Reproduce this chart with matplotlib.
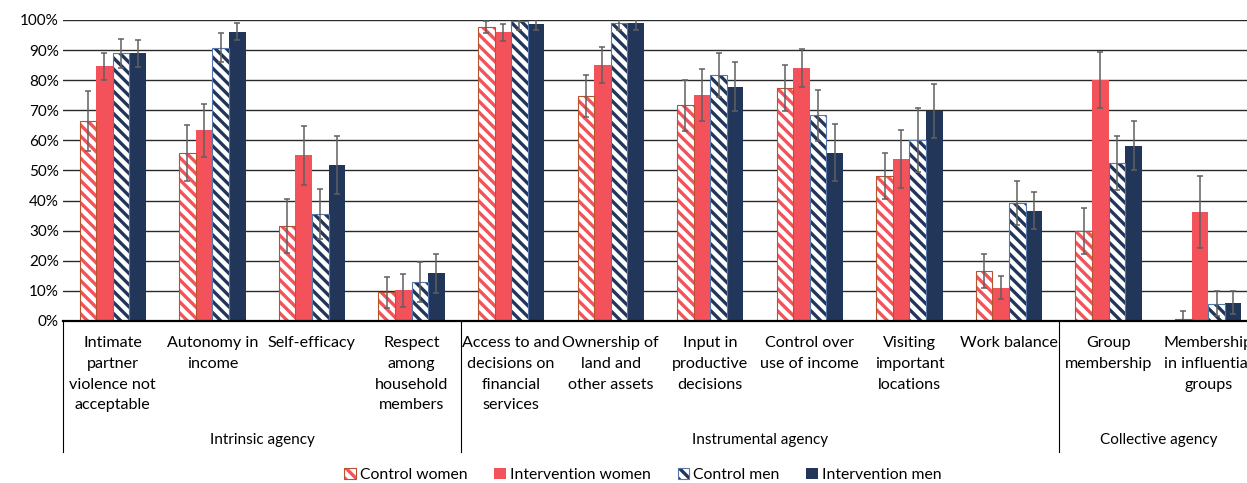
import numpy as np
import matplotlib
matplotlib.use("Agg")
import matplotlib.pyplot as plt
from matplotlib.patches import Patch
from matplotlib.legend_handler import HandlerTuple
from matplotlib.ticker import FuncFormatter

plt.rcParams["font.family"] = ["Lato", "DejaVu Sans"]
plt.rcParams["hatch.linewidth"] = 2.4

categories = [
    "Intimate\npartner\nviolence not\nacceptable",
    "Autonomy in\nincome",
    "Self-efficacy",
    "Respect\namong\nhousehold\nmembers",
    "Access to and\ndecisions on\nfinancial\nservices",
    "Ownership of\nland and\nother assets",
    "Input in\nproductive\ndecisions",
    "Control over\nuse of income",
    "Visiting\nimportant\nlocations",
    "Work balance",
    "Group\nmembership",
    "Membership\nin influential\ngroups",
]
groups = ["Intrinsic agency", "Instrumental agency", "Collective agency"]
group_spans = [(0, 3), (4, 9), (10, 11)]

series = ["Control women", "Intervention women", "Control men", "Intervention men"]

control_women = [66.4, 55.8, 31.5, 9.5, 97.7, 74.8, 71.7, 77.5, 48.1, 16.5, 29.9, 0.6]
intervention_women = [84.6, 63.3, 55.0, 10.2, 95.9, 85.0, 75.1, 84.1, 53.7, 11.1, 80.2, 36.3]
control_men = [88.9, 90.8, 35.4, 12.9, 99.6, 99.1, 81.7, 68.4, 60.2, 39.2, 52.5, 5.7]
intervention_men = [88.9, 96.1, 51.8, 15.8, 98.6, 98.9, 77.9, 55.9, 69.7, 36.7, 58.3, 6.1]

err_control_women = [10.0, 9.3, 9.0, 5.2, 2.0, 7.0, 8.5, 7.7, 7.7, 5.6, 7.8, 2.6]
err_intervention_women = [4.6, 8.8, 9.7, 5.4, 2.9, 6.0, 8.6, 6.2, 9.6, 3.9, 9.3, 12.0]
err_control_men = [4.8, 4.8, 8.3, 6.7, 3.0, 2.5, 7.2, 8.5, 10.6, 7.4, 9.0, 4.2]
err_intervention_men = [4.4, 2.9, 9.5, 6.5, 2.0, 2.3, 8.0, 9.5, 9.0, 6.0, 8.3, 3.9]

values = [control_women, intervention_women, control_men, intervention_men]
errors = [err_control_women, err_intervention_women, err_control_men, err_intervention_men]

red = "#F4525A"
navy = "#22365A"
styles = [
    dict(face="white", hatch_col=red, edge="#B5532F", hatch="\\\\\\"),
    dict(face=red, hatch_col=None, edge=red, hatch=None),
    dict(face="white", hatch_col=navy, edge="#5577AA", hatch="\\\\\\"),
    dict(face=navy, hatch_col=None, edge=navy, hatch=None),
]

W, H = 1247, 483
fig = plt.figure(figsize=(W / 100, H / 100), dpi=100)
left, right, bottom, top = 63, 1258, 321, 20
ax = fig.add_axes([left / W, (H - bottom) / H, (right - left) / W, (bottom - top) / H])

x = np.arange(len(categories))
bw = 1 / 6
handles = []
for i, (vals, errs, st) in enumerate(zip(values, errors, styles)):
    pos = x + (i - 1.5) * bw
    if st["hatch"]:
        ax.bar(pos, vals, bw, color=st["face"], edgecolor=st["hatch_col"],
               hatch=st["hatch"], linewidth=0, zorder=2)
        ax.bar(pos, vals, bw, fill=False, edgecolor=st["edge"], linewidth=0.8, zorder=3)
        h = (Patch(facecolor=st["face"], edgecolor=st["hatch_col"], hatch=st["hatch"], linewidth=0),
             Patch(fill=False, edgecolor=st["edge"], linewidth=0.8))
    else:
        ax.bar(pos, vals, bw, color=st["face"], linewidth=0, zorder=2)
        h = Patch(facecolor=st["face"], linewidth=0)
    ax.errorbar(pos, vals, yerr=errs, fmt="none", ecolor="#606060", elinewidth=1.1,
                capsize=2.2, capthick=1.1, zorder=4)
    handles.append(h)

ax.set_xlim(-0.5, len(categories) - 0.5)
ax.set_ylim(0, 100)
ax.set_yticks(np.arange(0, 101, 10))
ax.yaxis.set_major_formatter(FuncFormatter(lambda v, p: f"{int(v)}%"))
ax.tick_params(axis="y", length=0, pad=3, labelsize=11)
ax.set_xticks([])
ax.grid(axis="y", color="#2a2a2a", linewidth=1.0, zorder=0)
ax.set_axisbelow(True)
for s in ["top", "right", "left"]:
    ax.spines[s].set_visible(False)
ax.spines["bottom"].set_linewidth(1.6)
ax.spines["bottom"].set_color("black")
ax.spines["bottom"].set_zorder(5)

# category labels and agency groups below the axis
px = 1 / (bottom - top)
tr = ax.get_xaxis_transform()
for xi, lab in zip(x, categories):
    ax.text(xi, -15 * px, lab, transform=tr, ha="center", va="top", fontsize=11.6,
            linespacing=1.62, clip_on=False)

for g, (a, b) in zip(groups, group_spans):
    ax.text((a + b) / 2, -119 * px, g, transform=tr, ha="center", va="center",
            fontsize=11, clip_on=False)

for sep in [-0.5, 3.5, 9.5]:
    ax.plot([sep, sep], [0, -131 * px], transform=tr, color="black", lw=0.8,
            clip_on=False)

fig.legend(handles, series, loc="center", bbox_to_anchor=(643 / W, 1 - 475 / H),
           ncol=4, frameon=False, fontsize=11.3, handlelength=0.75, handleheight=0.7,
           handletextpad=0.25, columnspacing=1.7,
           handler_map={tuple: HandlerTuple(ndivide=1, pad=0)})

fig.savefig("out.png", dpi=100)
